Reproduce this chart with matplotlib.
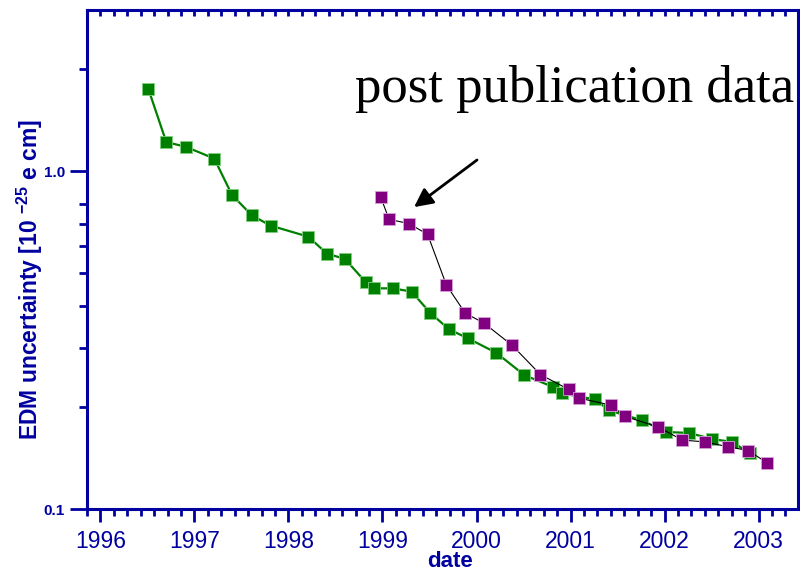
import matplotlib
matplotlib.use("Agg")
import matplotlib.pyplot as plt
from matplotlib.ticker import FixedLocator, NullFormatter, AutoMinorLocator

plt.rcParams["mathtext.fontset"] = "custom"
plt.rcParams["mathtext.bf"] = "Liberation Sans:bold"
plt.rcParams["mathtext.rm"] = "Liberation Sans"

# data
pub_dates = [1996.51, 1996.70, 1996.91, 1997.21, 1997.40, 1997.61, 1997.81,
             1998.21, 1998.41, 1998.60, 1998.82, 1998.91, 1999.11, 1999.31,
             1999.51, 1999.71, 1999.91, 2000.21, 2000.51, 2000.81, 2000.91,
             2001.26, 2001.41, 2001.76, 2002.02, 2002.26, 2002.51, 2002.72,
             2002.91]
pub_unc = [1.75, 1.22, 1.18, 1.09, 0.85, 0.74, 0.69,
           0.64, 0.57, 0.55, 0.47, 0.45, 0.45, 0.44,
           0.38, 0.34, 0.32, 0.29, 0.249, 0.23, 0.22,
           0.211, 0.196, 0.183, 0.169, 0.168, 0.161, 0.158,
           0.146]

post_dates = [1998.98, 1999.07, 1999.28, 1999.48, 1999.68, 1999.88, 2000.08,
              2000.38, 2000.68, 2000.98, 2001.09, 2001.43, 2001.58, 2001.93,
              2002.19, 2002.43, 2002.67, 2002.89, 2003.09]
post_unc = [0.84, 0.72, 0.70, 0.65, 0.46, 0.38, 0.355,
            0.305, 0.25, 0.226, 0.213, 0.203, 0.188, 0.175,
            0.160, 0.158, 0.153, 0.149, 0.137]

year_ticks = [1996, 1997, 1998, 1999, 2000, 2001, 2002, 2003]
y_major = [0.1, 1.0]
y_major_labels = ["0.1", "1.0"]
y_minor = [0.2, 0.3, 0.4, 0.5, 0.6, 0.7, 0.8, 2.0]

NAVY = "#0000a0"

fig = plt.figure(figsize=(8, 5.74), dpi=100)
ax = fig.add_axes([0.10875, 0.1132, 0.8888, 0.8694])

ax.plot(pub_dates, pub_unc, color="#008000", lw=1.6, marker="s", ms=8,
        mfc="#008000", mec="#7fcf7f", mew=0.6, zorder=3)
ax.plot(post_dates, post_unc, color="black", lw=0.8, marker="s", ms=8,
        mfc="#800080", mec="#d9a0d9", mew=0.6, zorder=4)

ax.set_yscale("log")
ax.set_ylim(0.1, 3.0)
ax.set_xlim(1995.857, 2003.42)

ax.yaxis.set_major_locator(FixedLocator(y_major))
ax.set_yticklabels(y_major_labels, fontweight="bold", fontsize=11,
                   family="Liberation Sans")
ax.yaxis.set_minor_locator(FixedLocator(y_minor))
ax.yaxis.set_minor_formatter(NullFormatter())
ax.set_xticks(year_ticks)
ax.set_xticklabels([str(y) for y in year_ticks])
ax.xaxis.set_minor_locator(AutoMinorLocator(7))

for side in ["left", "bottom", "top", "right"]:
    ax.spines[side].set_color(NAVY)
    ax.spines[side].set_linewidth(2.2)

ax.tick_params(axis="x", which="major", direction="out", length=9, width=2,
               color=NAVY, labelcolor=NAVY, labelsize=16.5, pad=6,
               labelfontfamily="Liberation Sans")
ax.tick_params(axis="x", which="minor", direction="out", length=5, width=2,
               color=NAVY)
ax.tick_params(axis="x", which="both", top=True)
ax.tick_params(axis="y", which="major", direction="out", length=12, width=2,
               color=NAVY, labelcolor=NAVY, pad=4)
ax.tick_params(axis="y", which="minor", direction="out", length=6, width=2,
               color=NAVY)

# top ticks are small and point inward
for t in ax.xaxis.get_major_ticks() + ax.xaxis.get_minor_ticks():
    t.tick2line.set_markersize(4)
    t.tick2line.set_marker(3)

ax.set_xlabel("date", fontsize=16, fontweight="bold", color=NAVY,
              family="Liberation Sans", labelpad=0)
ax.set_ylabel(r"EDM uncertainty [10 $^{\mathbf{-25}}$ e cm]", fontsize=16.5,
              fontweight="bold", color=NAVY, family="Liberation Sans")
ax.yaxis.set_label_coords(-0.059, 0.46)
ax.xaxis.set_label_coords(0.51, -0.085)

ax.text(0.377, 0.8156, "post publication data", transform=ax.transAxes,
        fontsize=38, family="Liberation Serif", color="black",
        ha="left", va="baseline")
ax.annotate("", xy=(0.46, 0.605), xytext=(0.5485, 0.6994),
            xycoords="axes fraction", textcoords="axes fraction",
            arrowprops=dict(arrowstyle="-|>", color="black", lw=2,
                            mutation_scale=28, shrinkA=0, shrinkB=0))

fig.savefig("out.png", dpi=100)
